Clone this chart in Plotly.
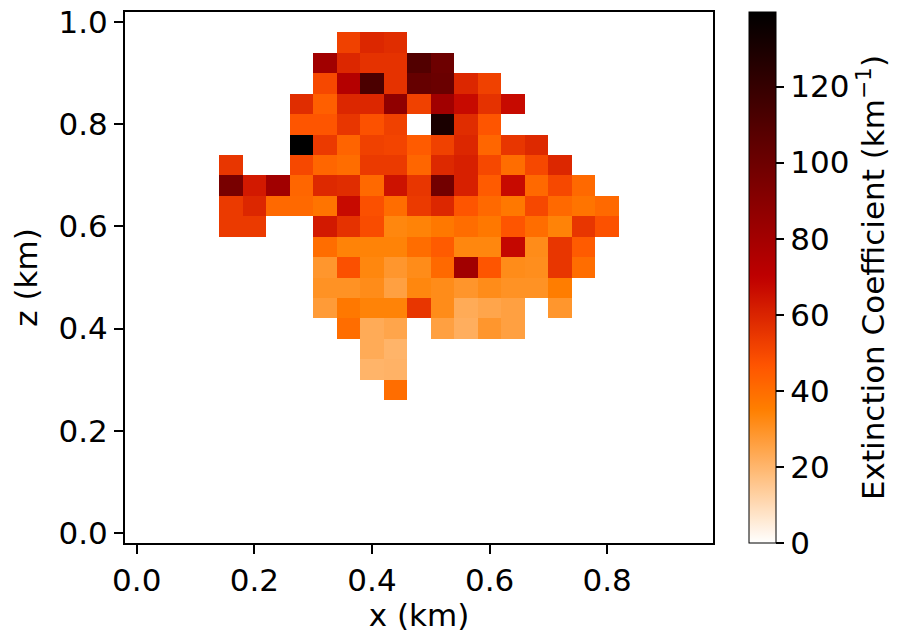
import plotly.graph_objects as go

# grid centres (km)
x_centres = [round(0.04 * i, 2) for i in range(25)]
z_centres = [round(0.04 * j, 2) for j in range(26)]

# extinction coefficient rows: (first column index, values), None = empty cell
row_028 = (11, [40])
row_032 = (10, [20.5, 21])
row_036 = (10, [23, 20.5])
row_040 = (9, [40, 23, 24.6, None, 26, 22, 28.7, 26])
row_044 = (8, [27.4, 37, 34, 34, 55, 31.5, 23, 24.6, 26, None, 28.7])
row_048 = (8, [30, 30, 31.5, 26, 33, 31.5, 29, 31.5, 30, 30, 35.6])
row_052 = (8, [28.7, 48, 33, 28.7, 31.5, 41, 81, 46.5, 31.5, 31, 55, 40])
row_056 = (8, [40, 34, 34, 34, 40, 45, 33, 33, 68, 31.5, 55, 45])
row_060 = (4, [54, 54, None, None, 63, 56, 49, 33, 34, 37, 40, 37, 46.5, 40, 34, 55, 47.6])
row_064 = (4, [54, 59, 41, 41, 38, 67, 48, 40, 54, 59, 46.5, 41, 37, 50, 41, 38, 41])
row_068 = (4, [96, 63, 81, 42, 58.6, 57.5, 41, 65, 55, 98, 61, 45, 67, 41, 50, 41])
row_072 = (4, [55, None, None, 50, 42, 40, 54, 54, 42, 58.6, 61, 50, 40, 50, 59])
row_076 = (7, [139.6, 54, 42.4, 52, 51, 45, 52, 59, 42, 55, 58.6])
row_080 = (7, [46.5, 46.5, 55, 47.6, 52, None, 130, 57.5, 46.5])
row_084 = (7, [57.5, 43.8, 59, 59, 87, 52, 81, 67, 56, 67])
row_088 = (8, [50, 74, 112, 56, 103, 101, 59, 52])
row_092 = (8, [81, 59, 56, 56, 110, 100])
row_096 = (9, [52, 59, 57.5])

rows = {
    7: row_028, 8: row_032, 9: row_036, 10: row_040, 11: row_044, 12: row_048,
    13: row_052, 14: row_056, 15: row_060, 16: row_064, 17: row_068, 18: row_072,
    19: row_076, 20: row_080, 21: row_084, 22: row_088, 23: row_092, 24: row_096,
}

grid = [[None] * len(x_centres) for _ in z_centres]
for j, (start, vals) in rows.items():
    for k, v in enumerate(vals):
        grid[j][start + k] = v

x_ticks = [0.0, 0.2, 0.4, 0.6, 0.8]
z_ticks = [0.0, 0.2, 0.4, 0.6, 0.8, 1.0]
cb_ticks = [0, 20, 40, 60, 80, 100, 120]
vmax = 139.6


# matplotlib gist_heat_r colour map
def gist_heat(x):
    r = min(1.0, 1.5 * x)
    g = min(1.0, max(0.0, 2 * x - 1))
    b = min(1.0, max(0.0, 4 * x - 3))
    return f"rgb({round(r*255)},{round(g*255)},{round(b*255)})"


n = 96
colorscale = [[k / (n - 1), gist_heat(1 - k / (n - 1))] for k in range(n)]

FONT = "DejaVu Sans"
FS = 31

fig = go.Figure(
    go.Heatmap(
        x=x_centres,
        y=z_centres,
        z=grid,
        zmin=0,
        zmax=vmax,
        colorscale=colorscale,
        hoverongaps=False,
        colorbar=dict(
            xref="container",
            x=749 / 900,
            xanchor="left",
            xpad=0,
            y=0.5,
            yanchor="middle",
            ypad=0,
            len=1,
            lenmode="fraction",
            thickness=27,
            outlinewidth=1,
            outlinecolor="black",
            ticks="outside",
            ticklen=8,
            tickwidth=2,
            tickcolor="black",
            tickvals=cb_ticks,
            tickfont=dict(family=FONT, size=FS, color="black"),
            title=dict(
                text="Extinction Coefficient (km<sup>−1</sup>)",
                side="right",
                font=dict(family=FONT, size=FS, color="black"),
            ),
        ),
    )
)

axis_common = dict(
    showgrid=False,
    zeroline=False,
    showline=True,
    mirror=True,
    linecolor="black",
    linewidth=2,
    ticks="outside",
    ticklen=9,
    tickwidth=2,
    tickcolor="black",
    tickformat=".1f",
    automargin=False,
    tickfont=dict(family=FONT, size=FS, color="black"),
)

fig.update_layout(
    width=900,
    height=633,
    margin=dict(l=125, r=187, t=12, b=90),
    paper_bgcolor="white",
    plot_bgcolor="white",
    font=dict(family=FONT, size=FS, color="black"),
    xaxis=dict(
        range=[-0.02, 0.98],
        tickvals=x_ticks,
        title=dict(text="x (km)", standoff=4, font=dict(family=FONT, size=FS)),
        **axis_common,
    ),
    yaxis=dict(
        range=[-0.02, 1.02],
        tickvals=z_ticks,
        title=dict(text="z (km)", standoff=12, font=dict(family=FONT, size=FS)),
        **axis_common,
    ),
)

fig.write_html(
    "out.html",
    config={"displayModeBar": False},
    post_script="document.body.style.margin='0';document.body.style.padding='0';",
)
